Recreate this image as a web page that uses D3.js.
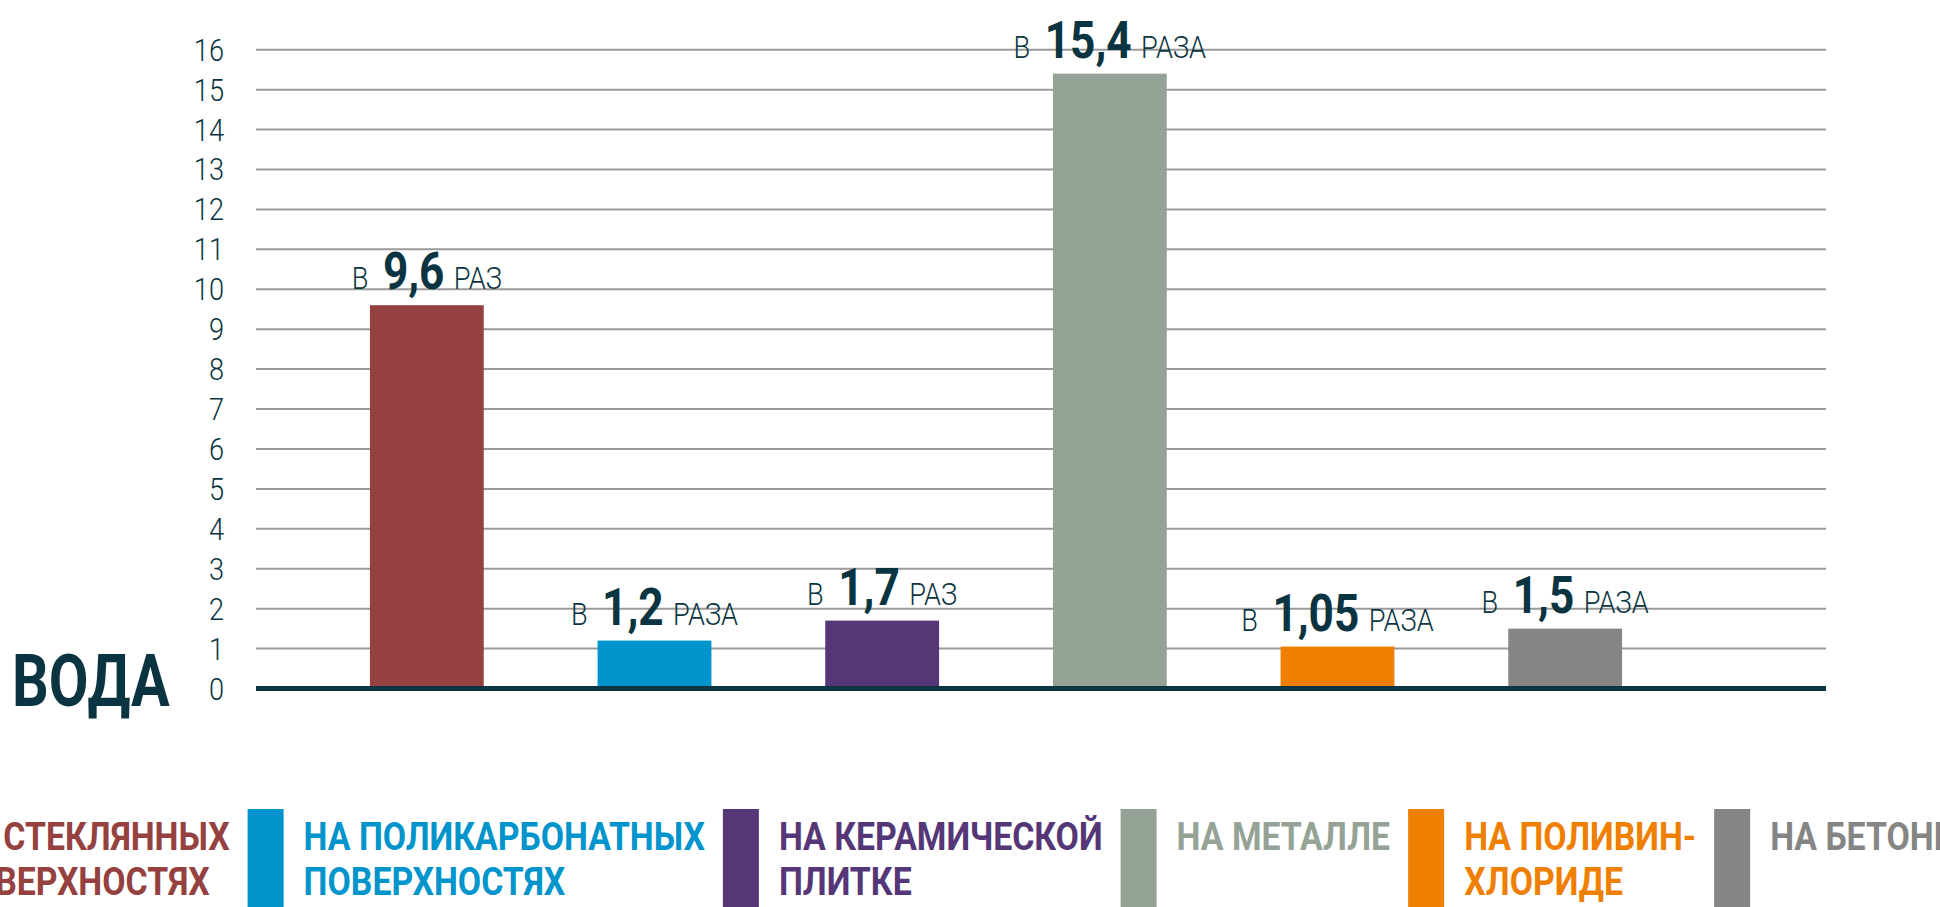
<!DOCTYPE html>
<html>
<head>
<meta charset="utf-8">
<script src="https://cdn.jsdelivr.net/npm/d3@7"></script>
<style>
  html, body { margin: 0; padding: 0; background: #fff; overflow: hidden; }
  svg { display: block; font-family: Roboto, "Open Sans", sans-serif; }
</style>
</head>
<body>
<svg id="chart" width="1940" height="907"></svg>
<script>
const categories = ["glass", "polycarbonate", "ceramic", "metal", "pvc", "concrete"];
const values = [9.6, 1.2, 1.7, 15.4, 1.05, 1.5];
const suffixes = ["РАЗ", "РАЗА", "РАЗ", "РАЗА", "РАЗА", "РАЗА"];
const legendLines = [
  ["НА СТЕКЛЯННЫХ", "ПОВЕРХНОСТЯХ"],
  ["НА ПОЛИКАРБОНАТНЫХ", "ПОВЕРХНОСТЯХ"],
  ["НА КЕРАМИЧЕСКОЙ", "ПЛИТКЕ"],
  ["НА МЕТАЛЛЕ"],
  ["НА ПОЛИВИН-", "ХЛОРИДЕ"],
  ["НА БЕТОНЕ"],
];
const colors = ["#944140", "#0094cc", "#553778", "#95a396", "#ef7f00", "#858585"];
const yTicks = d3.range(0, 17);
const title = "ВОДА";

const dark = "#0a3441";
const squeeze = 0.85; // fake a condensed face
const legendSqueeze = 0.89;

const plotLeft = 256;
const plotRight = 1826;

const svg = d3.select("#chart");

const y = d3.scaleLinear().domain([0, 16]).range([688.5, 49.7]);
const x = d3.scaleBand().domain(categories).range([313, 1679])
  .paddingInner(0.5).paddingOuter(0.25);

// gridlines
svg.append("g")
  .selectAll("line")
  .data(yTicks.filter((d) => d > 0))
  .enter()
  .append("line")
  .attr("x1", plotLeft)
  .attr("x2", plotRight)
  .attr("y1", (d) => y(d))
  .attr("y2", (d) => y(d))
  .attr("stroke", "#9b9b9b")
  .attr("stroke-width", 2);

// tick labels
svg.append("g")
  .selectAll("text")
  .data(yTicks)
  .enter()
  .append("text")
  .attr("transform", (d) => `translate(224,${y(d) + 11}) scale(${squeeze},1)`)
  .attr("text-anchor", "end")
  .attr("font-size", 32)
  .attr("font-weight", 300)
  .attr("fill", dark)
  .text((d) => d);

// bars
svg.append("g")
  .selectAll("rect")
  .data(values)
  .enter()
  .append("rect")
  .attr("x", (d, i) => x(categories[i]))
  .attr("y", (d) => y(d))
  .attr("width", x.bandwidth())
  .attr("height", (d) => y(0) - y(d))
  .attr("fill", (d, i) => colors[i]);

// base line
svg.append("line")
  .attr("x1", plotLeft)
  .attr("x2", plotRight)
  .attr("y1", y(0))
  .attr("y2", y(0))
  .attr("stroke", dark)
  .attr("stroke-width", 5);

// value labels
const labels = svg.append("g")
  .selectAll("text")
  .data(values)
  .enter()
  .append("text")
  .attr("transform", (d, i) =>
    `translate(${x(categories[i]) + x.bandwidth() / 2},${y(d) - 16}) scale(${squeeze},1)`)
  .attr("text-anchor", "middle")
  .attr("fill", dark);

labels.append("tspan").attr("font-size", 32).attr("font-weight", 300).text("В");
labels.append("tspan").attr("dx", 17).attr("font-size", 52).attr("font-weight", 700)
  .text((d) => String(d).replace(".", ","));
labels.append("tspan").attr("dx", 11).attr("font-size", 32).attr("font-weight", 300)
  .text((d, i) => suffixes[i]);

// title
svg.append("text")
  .attr("transform", `translate(12,706) scale(0.8,1)`)
  .attr("font-size", 72)
  .attr("font-weight", 700)
  .attr("fill", dark)
  .text(title);

// legend, laid out left to right
const legend = svg.append("g");
let lx = -108;
legendLines.forEach((lines, i) => {
  const item = legend.append("g");
  item.append("rect")
    .attr("x", lx)
    .attr("y", 809)
    .attr("width", 36)
    .attr("height", 110)
    .attr("fill", colors[i]);
  const tx = lx + 56;
  const t = item.append("text")
    .attr("transform", `translate(${tx},850) scale(${legendSqueeze},1)`)
    .attr("font-size", 38)
    .attr("font-weight", 700)
    .attr("fill", colors[i]);
  lines.forEach((line, j) => {
    t.append("tspan").attr("x", 0).attr("y", j * 45).text(line);
  });
  let w = 0;
  t.selectAll("tspan").each(function () {
    w = Math.max(w, this.getComputedTextLength());
  });
  lx = tx + w * legendSqueeze + 18;
});
</script>
</body>
</html>
